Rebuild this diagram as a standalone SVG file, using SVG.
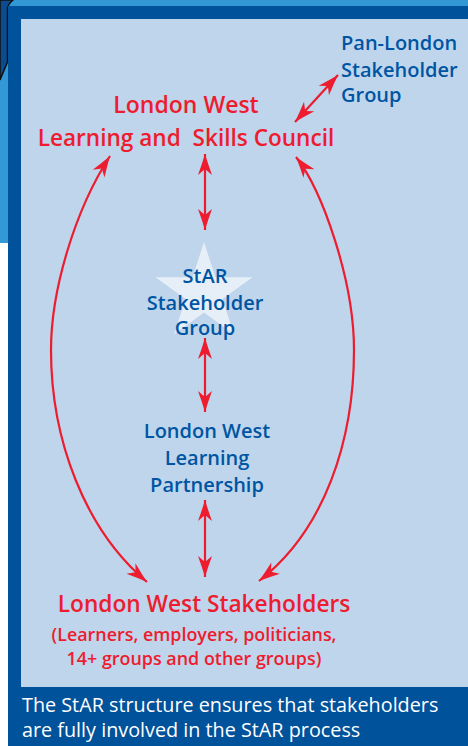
<svg xmlns="http://www.w3.org/2000/svg" width="468" height="746" viewBox="0 0 468 746">
<style>
.red{fill:#ed1c2e;font-family:"Open Sans","Liberation Sans",sans-serif;font-weight:600}
.blue{fill:#0055a2;font-family:"Open Sans","Liberation Sans",sans-serif;font-weight:600;font-size:20px}
.cap{fill:#ffffff;font-family:"Open Sans","Liberation Sans",sans-serif;font-size:19.8px}
.conn{fill:none;stroke:#ed1c2e;stroke-width:2.2}
</style>
<defs>
<marker id="ah" viewBox="-22 -8 24 16" refX="0" refY="0" markerWidth="24" markerHeight="16" markerUnits="userSpaceOnUse" orient="auto-start-reverse">
<path d="M0,0 Q-10,-3 -21,-7 L-15,0 L-21,7 Q-10,3 0,0 Z" fill="#ed1c2e"/>
</marker>
</defs>
<g id="background">
<rect x="0" y="0" width="468" height="746" fill="#ffffff"/>
<rect x="0" y="0" width="468" height="243" fill="#3399d6"/>
<path d="M0,0 L13,0 Q8,4 7.5,9 L7.5,62 L0,80 Z" fill="#0a4c8f" stroke="#111111" stroke-width="1.5"/>
<rect x="8" y="6" width="460" height="740" fill="#00529b"/>
<rect x="21" y="19" width="447" height="668" fill="#bfd5ec"/>
</g>
<g id="connectors">
<line class="conn" x1="205" y1="154" x2="205" y2="230" marker-start="url(#ah)" marker-end="url(#ah)"/>
<line class="conn" x1="205" y1="338" x2="205" y2="412" marker-start="url(#ah)" marker-end="url(#ah)"/>
<line class="conn" x1="205" y1="500" x2="205" y2="577" marker-start="url(#ah)" marker-end="url(#ah)"/>
<line class="conn" x1="295" y1="122" x2="338" y2="75" marker-start="url(#ah)" marker-end="url(#ah)"/>
<path class="conn" d="M110,156 C75,210 51,290 51,350 C51,440 85,530 147,582" marker-start="url(#ah)" marker-end="url(#ah)"/>
<path class="conn" d="M296,157 C322,190 354,280 354,350 C354,440 325,530 259,581" marker-start="url(#ah)" marker-end="url(#ah)"/>
</g>
<g id="node-lsc">
<text class="red" font-size="23" text-anchor="middle" x="186" y="113">London West</text>
<text class="red" font-size="22.6" text-anchor="middle" x="186" y="146" xml:space="preserve">Learning and  Skills Council</text>
</g>
<g id="node-panlondon">
<text class="blue" x="341" y="50">Pan-London</text>
<text class="blue" x="341" y="77">Stakeholder</text>
<text class="blue" x="341" y="102">Group</text>
</g>
<g id="node-star">
<polygon points="204,242 215.4,277.3 252.5,277.3 222.5,299.1 234,334.4 204,312.6 174,334.4 185.5,299.1 155.5,277.3 192.6,277.3" fill="#e6eef8"/>
<text class="blue" text-anchor="middle" x="205" y="283">StAR</text>
<text class="blue" text-anchor="middle" x="205" y="310">Stakeholder</text>
<text class="blue" text-anchor="middle" x="205" y="335">Group</text>
</g>
<g id="node-partnership">
<text class="blue" text-anchor="middle" x="207" y="438">London West</text>
<text class="blue" text-anchor="middle" x="207" y="465">Learning</text>
<text class="blue" text-anchor="middle" x="207" y="492">Partnership</text>
</g>
<g id="node-stakeholders">
<text class="red" font-size="22.7" text-anchor="middle" x="204" y="612">London West Stakeholders</text>
<text class="red" font-size="17.9" text-anchor="middle" x="194" y="641">(Learners, employers, politicians,</text>
<text class="red" font-size="17.9" text-anchor="middle" x="194" y="665">14+ groups and other groups)</text>
</g>
<g id="caption">
<text class="cap" x="22" y="712">The StAR structure ensures that stakeholders</text>
<text class="cap" x="22" y="737">are fully involved in the StAR process</text>
</g>
</svg>
